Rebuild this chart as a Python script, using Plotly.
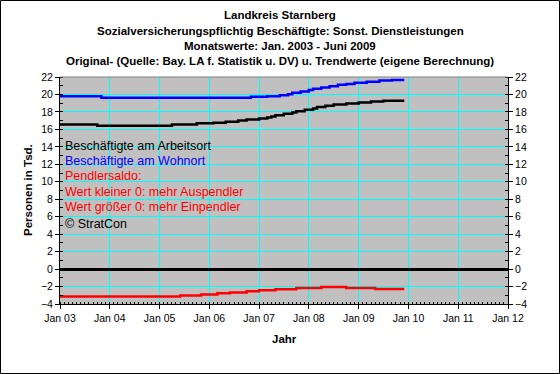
import plotly.graph_objects as go

# ---- data (step values, Tsd. Personen) ----
arbeitsort_dates = ["2003-01-01", "2003-10-01", "2005-04-01", "2005-10-01", "2006-02-01", "2006-05-01",
                    "2006-08-01", "2006-10-01", "2007-01-01", "2007-03-01", "2007-04-01", "2007-05-01",
                    "2007-07-01", "2007-09-01", "2007-10-01", "2007-12-01", "2008-02-01", "2008-03-01",
                    "2008-05-01", "2008-07-01", "2008-10-01", "2009-01-01", "2009-04-01", "2009-07-01",
                    "2009-12-01"]
arbeitsort_vals = [16.57, 16.43, 16.57, 16.69, 16.75, 16.87, 17.03, 17.14, 17.25, 17.37, 17.48, 17.63,
                   17.79, 17.94, 18.09, 18.24, 18.40, 18.55, 18.70, 18.85, 18.97, 19.08, 19.20, 19.27,
                   19.27]

wohnort_dates = ["2003-01-01", "2003-11-01", "2006-11-01", "2007-03-01", "2007-06-01", "2007-08-01",
                 "2007-09-01", "2007-11-01", "2008-01-01", "2008-02-01", "2008-04-01", "2008-06-01",
                 "2008-08-01", "2008-10-01", "2008-12-01", "2009-03-01", "2009-06-01", "2009-09-01",
                 "2009-12-01"]
wohnort_vals = [19.80, 19.63, 19.73, 19.80, 19.90, 20.03, 20.20, 20.35, 20.50, 20.65, 20.80, 20.95,
                21.10, 21.20, 21.35, 21.45, 21.60, 21.67, 21.67]

saldo_dates = ["2003-01-01", "2005-06-01", "2005-11-01", "2006-03-01", "2006-06-01", "2006-10-01",
               "2007-01-01", "2007-05-01", "2007-10-01", "2008-04-01", "2008-10-01", "2009-05-01",
               "2009-12-01"]
saldo_vals = [-3.14, -3.02, -2.90, -2.78, -2.67, -2.55, -2.43, -2.31, -2.16, -2.04, -2.16, -2.27, -2.27]

title_lines = ["Landkreis Starnberg",
               "Sozialversicherungspflichtig Beschäftigte: Sonst. Dienstleistungen",
               "Monatswerte: Jan. 2003 - Juni 2009",
               "Original- (Quelle: Bay. LA f. Statistik u. DV) u. Trendwerte (eigene Berechnung)"]
note_lines = [("Beschäftigte am Arbeitsort", "#000000"),
              ("Beschäftigte am Wohnort", "#0000FF"),
              ("Pendlersaldo:", "#FF0000"),
              ("Wert kleiner 0: mehr Auspendler", "#FF0000"),
              ("Wert größer 0: mehr Einpendler", "#FF0000"),
              ("© StratCon", "#000000")]

FONT = "Liberation Sans, Arial, sans-serif"
W, H = 560, 374
ML, MR, MT, MB = 60, 52, 77, 70
PW, PH = W - ML - MR, H - MT - MB

fig = go.Figure()
fig.add_trace(go.Scatter(x=arbeitsort_dates, y=arbeitsort_vals, mode="lines", line_shape="hv",
                         line=dict(color="#000000", width=2.5), name="Arbeitsort"))
fig.add_trace(go.Scatter(x=wohnort_dates, y=wohnort_vals, mode="lines", line_shape="hv",
                         line=dict(color="#0000FF", width=2.5), name="Wohnort"))
fig.add_trace(go.Scatter(x=saldo_dates, y=saldo_vals, mode="lines", line_shape="hv",
                         line=dict(color="#FF0000", width=2.5), name="Saldo"))
fig.add_trace(go.Scatter(x=[None], y=[None], yaxis="y2", showlegend=False, hoverinfo="skip"))

def py(ypx):
    return (H - MB - ypx) / PH

def px(xpx):
    return (xpx - ML) / PW

annos = []
for txt, ypix in zip(title_lines, [15, 31, 46, 61]):
    annos.append(dict(text="<b>%s</b>" % txt, x=px(280), y=py(ypix), xref="paper", yref="paper",
                      xanchor="center", yanchor="middle", showarrow=False,
                      font=dict(family=FONT, size=11.5, color="#000000")))
for (txt, col), ypix in zip(note_lines, [146, 161, 176, 191.5, 206.5, 224]):
    annos.append(dict(text=txt, x=px(63), y=py(ypix), xref="paper", yref="paper",
                      xanchor="left", yanchor="middle", showarrow=False,
                      font=dict(family=FONT, size=12.5, color=col)))
annos.append(dict(text="<b>Jahr</b>", x=px(284), y=py(339), xref="paper", yref="paper",
                  xanchor="center", yanchor="middle", showarrow=False,
                  font=dict(family=FONT, size=11.5, color="#000000")))
annos.append(dict(text="<b>Personen in Tsd.</b>", x=px(28), y=py(190), xref="paper", yref="paper",
                  xanchor="center", yanchor="middle", showarrow=False, textangle=-90,
                  font=dict(family=FONT, size=11.5, color="#000000")))

shapes = [
    dict(type="line", xref="paper", yref="paper", x0=0, x1=1, y0=1, y1=1,
         line=dict(color="#808080", width=1)),
    dict(type="rect", xref="paper", yref="paper",
         x0=px(0.5), x1=px(W - 0.5), y0=py(H - 0.5), y1=py(0.5),
         line=dict(color="#000000", width=1)),
]

tickfont = dict(family=FONT, size=10.5, color="#000000")
fig.update_layout(
    width=W, height=H,
    margin=dict(l=ML, r=MR, t=MT, b=MB, pad=0),
    paper_bgcolor="#FFFFFF", plot_bgcolor="#C0C0C0",
    showlegend=False,
    annotations=annos, shapes=shapes,
    xaxis=dict(type="date", range=["2003-01-01", "2012-01-01"], dtick="M12", tick0="2003-01-01",
               tickformat="Jan %y", ticks="outside", ticklen=4, tickcolor="#000000",
               showline=True, linecolor="#000000", linewidth=1, mirror=False,
               showgrid=True, gridcolor="#00FFFF", gridwidth=1, zeroline=False,
               tickfont=tickfont,
               minor=dict(dtick="M1", ticks="inside", ticklen=2, tickcolor="#000000", showgrid=False)),
    yaxis=dict(range=[-4, 22], dtick=2, tick0=0, ticks="outside", ticklen=4, tickcolor="#000000",
               showline=True, linecolor="#000000", linewidth=1,
               showgrid=True, gridcolor="#00FFFF", gridwidth=1,
               zeroline=True, zerolinecolor="#000000", zerolinewidth=3,
               tickfont=tickfont,
               minor=dict(dtick=1, ticks="inside", ticklen=3, tickcolor="#000000", showgrid=False)),
    yaxis2=dict(range=[-4, 22], dtick=2, tick0=0, overlaying="y", side="right",
                ticks="outside", ticklen=4, tickcolor="#000000",
                showline=True, linecolor="#000000", linewidth=1,
                showgrid=False, zeroline=False, tickfont=tickfont,
                minor=dict(dtick=1, ticks="inside", ticklen=3, tickcolor="#000000", showgrid=False)),
)

fig.write_html("out.html",
               config={"displayModeBar": False, "staticPlot": True},
               post_script="document.body.style.margin='0';document.body.style.padding='0';"
                           "document.body.style.overflow='hidden';")
